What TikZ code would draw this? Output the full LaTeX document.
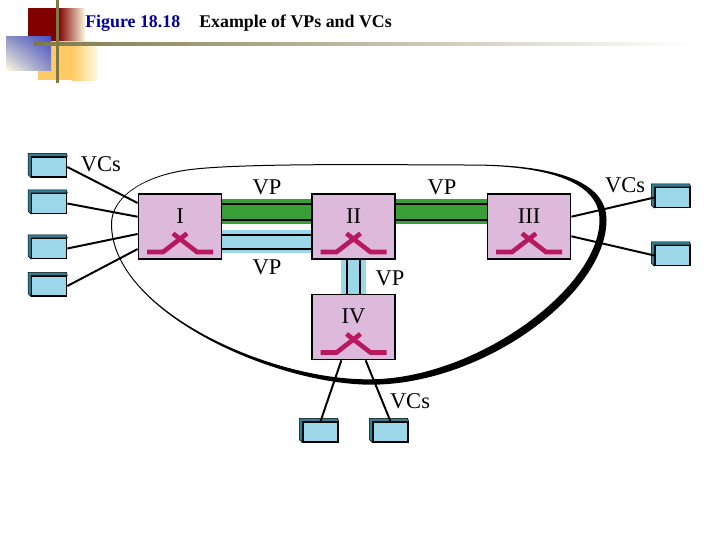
\documentclass[tikz,border=0pt]{standalone}
\usepackage{fontspec}
\setmainfont{Liberation Serif}
\usetikzlibrary{backgrounds,shadings}
\definecolor{cbox}{HTML}{DDB9DC}
\definecolor{ctube}{HTML}{9BD7E9}
\definecolor{cside}{HTML}{2F8094}
\definecolor{cgreen}{HTML}{3A9E36}
\definecolor{cpink}{HTML}{B8185E}
\definecolor{colive}{HTML}{7E7A48}
\definecolor{cred}{HTML}{800000}
\definecolor{corange}{HTML}{FFC966}
\definecolor{ccream}{HTML}{FCF9DE}
\definecolor{ctitle}{HTML}{000099}
\definecolor{cblue}{HTML}{4450C4}
\definecolor{cgrey}{HTML}{8C90C4}
\tikzset{
  swbox/.style={draw=black,fill=cbox,line width=1.2pt,inner sep=0pt,minimum width=2.075cm,minimum height=1.625cm},
  device/.style={draw=black,fill=ctube,line width=0.9pt,inner sep=0pt,minimum width=0.875cm,minimum height=0.5cm},
  devside/.style={draw=black,fill=cside,line width=0.4pt,line join=round},
  tag/.style={font=\fontsize{16}{18}\selectfont,inner sep=0pt},
  vcline/.style={draw=black,line width=1.4pt},
  xbar/.style={draw=cpink,line width=3.3pt,line join=miter},
  vpgreen/.style={draw=black,line width=1.4pt,double=cgreen,double distance=10.2pt,preaction={draw=cgreen,line width=17.5pt}},
  vpblue/.style={draw=black,line width=1.4pt,double=ctube,double distance=8.3pt,preaction={draw=ctube,line width=16.5pt}},
  vpdown/.style={draw=black,line width=1.4pt,double=ctube,double distance=8.5pt,preaction={draw=ctube,line width=18.4pt}},
}
\begin{document}
\begin{tikzpicture}[x=0.025cm,y=-0.025cm]
  \useasboundingbox (0,0) rectangle (720,540);
  % corner decoration
  \fill[cred] (28,8) rectangle (58,41);
  \shade[left color=cred,right color=ccream] (58,8) rectangle (85,41);
  \fill[corange] (38,41) rectangle (72,80);
  \shade[left color=corange,right color=ccream] (72,41) rectangle (97,80);
  \shade[upper left=cgrey,upper right=cblue,lower left=ccream,lower right=cgrey] (6,36) rectangle (51,70);
  \shade[left color=colive,right color=white] (34,42) rectangle (690,45);
  \fill[colive] (56,0) rectangle (59,83);
  % title
  \node[font=\bfseries\fontsize{12.7}{15}\selectfont,text=ctitle,anchor=base west,inner sep=0pt] (figno) at (85,27.5) {Figure 18.18};
  \node[font=\bfseries\fontsize{12.7}{15}\selectfont,anchor=base west,inner sep=0pt] (figtitle) at (199,27.5) {Example of VPs and VCs};
  % switches
  \node[swbox] (swI) at (180,226.5) {};
  \node[swbox] (swII) at (353.5,226.5) {};
  \node[swbox] (swIII) at (529,226.5) {};
  \node[swbox] (swIV) at (353.5,327) {};
  \node[tag] (labI) at (180,216) {I};
  \node[tag] (labII) at (353.5,216) {II};
  \node[tag] (labIII) at (529,216) {III};
  \node[tag] (labIV) at (353.5,316.5) {IV};
  \foreach \sw in {swI,swII,swIII,swIV}
    {\begin{scope}[shift={(\sw.center)}]
      \draw[xbar] (-33,25.5) -- (-17,25.5) -- (7,7);
      \draw[xbar] (33,25.5) -- (17,25.5) -- (-7,7);
    \end{scope}}
  % paths between switches
  \begin{scope}[on background layer]
    \draw[vpgreen] ([yshift=0.37cm]swI.east) -- ([yshift=0.37cm]swII.west);
    \draw[vpgreen] ([yshift=0.37cm]swII.east) -- ([yshift=0.37cm]swIII.west);
    \draw[vpblue] ([yshift=-0.38cm]swI.east) -- ([yshift=-0.38cm]swII.west);
    \draw[vpdown] (swII.south) -- (swIV.north);
  \end{scope}
  % end systems
  \foreach \dv/\x/\y in {devA/49.2/167,devB/49.2/203.5,devC/49.2/248.5,devD/49.2/286,devE/672.5/197.5,devF/672.5/255.5,devG/320.5/432,devH/390.5/432}
    {\node[device] (\dv) at (\x,\y) {};
     \draw[devside] (\dv.north east) -- ([shift={(-1,-3)}]\dv.north east) -- ([shift={(-3,-3)}]\dv.north west)
       -- ([shift={(-3,-3)}]\dv.south west) -- (\dv.south west) -- (\dv.north west) -- cycle;}
  % network outline
  \fill[black] (111,224) .. controls (111,196) and (145,175.5) .. (187,169.5)
    .. controls (240,162) and (400,164.5) .. (470,164.5)
    .. controls (552,164.5) and (606.5,180) .. (606.5,220)
    .. controls (606.5,293) and (484,385) .. (370,384.7)
    .. controls (270,383.7) and (111,310) .. (111,224)
    -- (112,224) .. controls (112,310) and (270,380.5) .. (370,379.3)
    .. controls (476,379) and (599.5,288) .. (599.5,220)
    .. controls (599.5,182) and (548,165.5) .. (470,165.5)
    .. controls (400,165.5) and (240,163) .. (187,170.5)
    .. controls (145,176.5) and (112,196) .. (112,224) -- cycle;
  % virtual circuits
  \draw[vcline] (devA.east) -- (swI.151.5);
  \draw[vcline] (devB.east) -- (swI.167);
  \draw[vcline] (devC.east) -- (swI.190);
  \draw[vcline] (devD.east) -- (swI.208.5);
  \draw[vcline] (swIII.13.5) -- (devE.west);
  \draw[vcline] (swIII.347) -- (devF.west);
  \draw[vcline] (swIV.250.3) -- (devG.north);
  \draw[vcline] (swIV.290.7) -- (devH.north);
  % labels
  \node[tag] (vcsA) at (101,164) {VCs};
  \node[tag] (vcsB) at (625,185) {VCs};
  \node[tag] (vcsC) at (410,401) {VCs};
  \node[tag] (vpA) at (267,187) {VP};
  \node[tag] (vpB) at (442,187) {VP};
  \node[tag] (vpC) at (267,267) {VP};
  \node[tag] (vpD) at (390,278) {VP};
\end{tikzpicture}
\end{document}
